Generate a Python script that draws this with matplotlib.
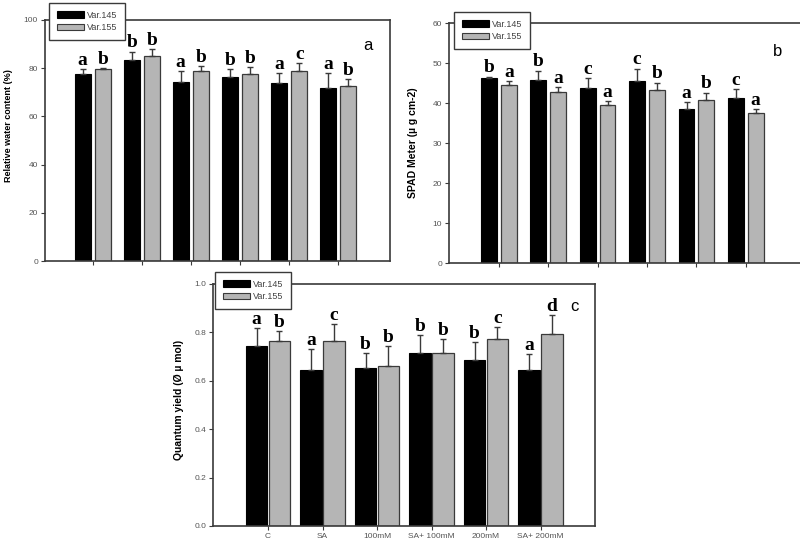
import numpy as np
import matplotlib.pyplot as plt

# treatments on the x axis (only labelled in the bottom panel)
treatments = ["C", "SA", "100mM", "SA+ 100mM", "200mM", "SA+ 200mM"]
varieties = ["Var.145", "Var.155"]

# relative water content (%)
rwc_145 = [77.6, 83.5, 74.1, 76.2, 73.7, 71.7]
rwc_145_err = [2.1, 3.4, 4.7, 3.5, 4.2, 6.2]
rwc_155 = [79.7, 85.2, 78.8, 77.6, 78.8, 72.8]
rwc_155_err = [0.5, 2.6, 2.2, 2.8, 3.2, 2.6]
rwc_145_sig = ["a", "b", "a", "b", "a", "a"]
rwc_155_sig = ["b", "b", "b", "b", "c", "b"]

# SPAD meter
spad_145 = [46.2, 45.7, 43.7, 45.4, 38.4, 41.3]
spad_145_err = [0.4, 2.4, 2.5, 3.2, 1.8, 2.1]
spad_155 = [44.4, 42.7, 39.4, 43.3, 40.7, 37.4]
spad_155_err = [1.0, 1.3, 1.1, 1.8, 1.9, 1.0]
spad_145_sig = ["b", "b", "c", "c", "a", "c"]
spad_155_sig = ["a", "a", "a", "b", "b", "a"]

# quantum yield
qy_145 = [0.743, 0.644, 0.652, 0.713, 0.684, 0.644]
qy_145_err = [0.076, 0.086, 0.064, 0.076, 0.076, 0.066]
qy_155 = [0.764, 0.764, 0.661, 0.713, 0.771, 0.793]
qy_155_err = [0.040, 0.069, 0.082, 0.059, 0.052, 0.079]
qy_145_sig = ["a", "a", "b", "b", "b", "a"]
qy_155_sig = ["b", "c", "b", "b", "c", "d"]

W, H = 800, 546
GREY = "#b5b5b5"
EDGE = "#3a3a3a"

plt.rcParams["font.family"] = ["Liberation Sans", "DejaVu Sans"]

fig = plt.figure(figsize=(W / 100, H / 100), dpi=100)


def px_rect(l, t, r, b):
    return [l / W, 1 - b / H, (r - l) / W, (b - t) / H]


def draw_panel(rect, xlim, off, width, v1, e1, s1, v2, e2, s2, ymax, ystep,
               ylabel, ylabel_xy, ylabel_size, panel, panel_xy, leg_xy, yfmt,
               show_right=True, xlabels=False):
    ax = fig.add_axes(rect)
    x = np.arange(len(treatments))
    ax.bar(x - off, v1, width, color="black", edgecolor="black", lw=0.8, zorder=2)
    ax.bar(x + off, v2, width, color=GREY, edgecolor=EDGE, lw=0.9, zorder=2)
    for xs, v, e in ((x - off, v1, e1), (x + off, v2, e2)):
        ax.errorbar(xs, v, yerr=[np.zeros(len(e)), e], fmt="none", ecolor=EDGE,
                    elinewidth=1.0, capsize=2.5, capthick=1.0, zorder=3)
    for xs, v, e, s in ((x - off, v1, e1, s1), (x + off, v2, e2, s2)):
        for xi, vi, ei, si in zip(xs, v, e, s):
            ax.annotate(si, (xi, vi + ei), xytext=(0, 3), textcoords="offset points",
                        ha="center", va="baseline", fontsize=14, fontweight="bold",
                        family=["Liberation Serif", "DejaVu Serif"])
    ax.set_xlim(*xlim)
    ax.set_ylim(0, ymax)
    ax.set_yticks(np.arange(0, ymax + ystep / 2, ystep))
    ax.yaxis.set_major_formatter(plt.FormatStrFormatter(yfmt))
    ax.set_xticks(x)
    if xlabels:
        ax.set_xticklabels(treatments)
    else:
        ax.set_xticklabels([])
    ax.tick_params(direction="out", length=3, width=0.8, color=EDGE,
                   labelsize=6, labelcolor="#555555", pad=2)
    for side, sp in ax.spines.items():
        sp.set_color(EDGE)
        sp.set_linewidth(1.2)
    ax.spines["right"].set_visible(show_right)
    ax.set_ylabel(ylabel, fontsize=ylabel_size, fontweight="bold")
    ax.yaxis.set_label_coords(*ylabel_xy)
    ax.text(panel_xy[0], panel_xy[1], panel, transform=ax.transAxes,
            fontsize=12, ha="center", va="center")
    handles = [plt.Rectangle((0, 0), 1, 1, fc="black", ec="black", lw=0.8),
               plt.Rectangle((0, 0), 1, 1, fc=GREY, ec=EDGE, lw=0.8)]
    leg = ax.legend(handles, varieties, loc="upper left",
                    bbox_to_anchor=(leg_xy[0] / W, 1 - leg_xy[1] / H),
                    bbox_transform=fig.transFigure, fontsize=6.5, frameon=True,
                    fancybox=False, edgecolor=EDGE, framealpha=1,
                    handlelength=3.0, handleheight=0.7, labelspacing=0.4,
                    borderpad=0.85, handletextpad=0.4, borderaxespad=0)
    leg.get_frame().set_linewidth(1.0)
    for t in leg.get_texts():
        t.set_color("#444444")
    return ax


# panel a: relative water content
draw_panel(px_rect(45, 20, 390, 261), (-0.98, 6.06), 0.21, 0.33,
           rwc_145, rwc_145_err, rwc_145_sig, rwc_155, rwc_155_err, rwc_155_sig,
           100, 20, "Relative water content (%)", (-0.094, 0.56), 6.5,
           "a", (0.935, 0.895), (49, 3), "%d")

# panel b: SPAD meter
draw_panel(px_rect(449, 23, 812, 263), (-1.01, 6.34), 0.20, 0.32,
           spad_145, spad_145_err, spad_145_sig, spad_155, spad_155_err, spad_155_sig,
           60, 10, "SPAD Meter (\u00b5 g cm-2)", (-0.085, 0.5), 7.5,
           "b", (0.905, 0.88), (454, 12), "%d", show_right=False)

# panel c: quantum yield
draw_panel(px_rect(213, 284, 595, 526), (-1.01, 6.0), 0.21, 0.39,
           qy_145, qy_145_err, qy_145_sig, qy_155, qy_155_err, qy_155_sig,
           1.0, 0.2, "Quantum yield (\u00d8 \u00b5 mol)", (-0.076, 0.52), 7.5,
           "c", (0.945, 0.905), (215, 272), "%.1f", xlabels=True)

fig.savefig("out.png", dpi=100)
